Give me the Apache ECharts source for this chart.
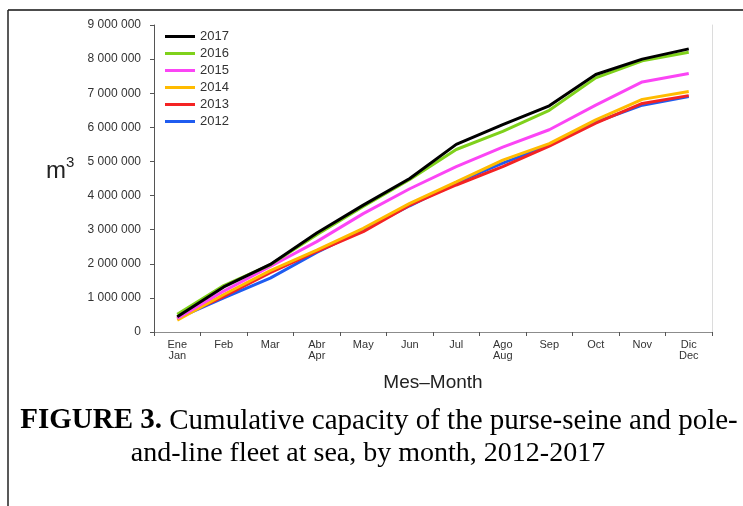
<!DOCTYPE html>
<html>
<head>
<meta charset="utf-8">
<script src="https://cdn.jsdelivr.net/npm/echarts@6/dist/echarts.min.js"></script>
<style>
  html, body { margin: 0; padding: 0; background: #fff; }
  #chart { width: 743px; height: 506px; }
</style>
</head>
<body>
<div id="chart"></div>
<script>
// months (Spanish / English)
const months = ["Ene\nJan", "Feb", "Mar", "Abr\nApr", "May", "Jun", "Jul", "Ago\nAug", "Sep", "Oct", "Nov", "Dic\nDec"];
const years = ["2012", "2013", "2014", "2015", "2016", "2017"];

// cumulative capacity, m3
const cap2012 = [400000, 1000000, 1580000, 2330000, 3000000, 3700000, 4380000, 4950000, 5470000, 6150000, 6650000, 6900000];
const cap2013 = [420000, 1040000, 1740000, 2360000, 2940000, 3720000, 4310000, 4850000, 5450000, 6120000, 6700000, 6930000];
const cap2014 = [350000, 1100000, 1800000, 2400000, 3040000, 3770000, 4400000, 5040000, 5520000, 6220000, 6820000, 7050000];
const cap2015 = [400000, 1200000, 1920000, 2650000, 3470000, 4200000, 4850000, 5420000, 5930000, 6650000, 7330000, 7580000];
const cap2016 = [520000, 1360000, 1970000, 2850000, 3680000, 4470000, 5350000, 5880000, 6500000, 7450000, 7950000, 8200000];
const cap2017 = [450000, 1320000, 1980000, 2900000, 3720000, 4500000, 5500000, 6080000, 6630000, 7550000, 8000000, 8300000];

const yMax = 9000000;
const yStep = 1000000;

const allData = [cap2012, cap2013, cap2014, cap2015, cap2016, cap2017];
const colors = ["#1f5cf0", "#f42323", "#ffbb00", "#fb45f5", "#7fd11b", "#000000"];

const chart = echarts.init(document.getElementById("chart"));

const fmt = (v) => String(v).replace(/\B(?=(\d{3})+(?!\d))/g, " ");

const option = {
  animation: false,
  textStyle: { fontFamily: "Liberation Sans" },
  grid: { left: 154, right: 31, top: 25, bottom: 174 },
  legend: {
    data: ["2017", "2016", "2015", "2014", "2013", "2012"],
    orient: "vertical",
    left: 165,
    top: 30,
    padding: 0,
    icon: "rect",
    itemWidth: 30,
    itemHeight: 3,
    itemGap: 4,
    textStyle: { fontSize: 13, color: "#333", fontFamily: "Liberation Sans" },
  },
  xAxis: [
    {
      type: "category",
      data: months,
      boundaryGap: true,
      axisLine: { lineStyle: { color: "#555", width: 1 } },
      axisTick: { show: true, length: 4, lineStyle: { color: "#555" } },
      axisLabel: {
        interval: 0,
        fontSize: 11,
        lineHeight: 11,
        margin: 7,
        color: "#333",
      },
      name: "Mes\u2013Month",
      nameLocation: "middle",
      nameGap: 41,
      nameTextStyle: { fontSize: 19, color: "#222" },
    },
    {
      // top frame line of the plot
      type: "category",
      data: months,
      position: "top",
      axisLine: { lineStyle: { color: "#8c8c8c", width: 1 } },
      axisTick: { show: false },
      axisLabel: { show: false },
    },
  ],
  yAxis: [
    {
      type: "value",
      min: 0,
      max: yMax,
      interval: yStep,
      axisLine: { show: true, lineStyle: { color: "#555", width: 1 } },
      axisTick: { show: true, length: 4, lineStyle: { color: "#555" } },
      splitLine: { show: false },
      axisLabel: { fontSize: 12, color: "#333", margin: 13, formatter: fmt },
    },
    {
      // right frame line
      type: "value",
      min: 0,
      max: yMax,
      interval: yStep,
      position: "right",
      axisLine: { show: true, lineStyle: { color: "#dcdcdc", width: 1 } },
      axisTick: { show: false },
      axisLabel: { show: false },
      splitLine: { show: false },
    },
  ],
  series: years.map((y, i) => ({
    name: y,
    type: "line",
    data: allData[i],
    symbol: "none",
    color: colors[i],
    lineStyle: { width: 3, color: colors[i] },
  })),
  graphic: [
    // page frame
    { type: "line", shape: { x1: 8, y1: 10, x2: 743, y2: 10 }, style: { stroke: "#111", lineWidth: 1.5 } },
    { type: "line", shape: { x1: 8, y1: 10, x2: 8, y2: 506 }, style: { stroke: "#222", lineWidth: 1.5 } },
    {
      type: "text",
      left: 46,
      top: 155,
      style: {
        text: "{m|m}{s|3}",
        rich: {
          m: { fontSize: 24, lineHeight: 28, verticalAlign: "bottom", fill: "#222", fontFamily: "Liberation Sans" },
          s: { fontSize: 15, lineHeight: 16, verticalAlign: "top", fill: "#222", fontFamily: "Liberation Sans" },
        },
      },
    },
    {
      type: "text",
      x: 379,
      y: 421,
      style: {
        text: "{b|FIGURE 3.} Cumulative capacity of the purse-seine and pole-",
        align: "center",
        verticalAlign: "middle",
        fontSize: 29,
        fontFamily: "Liberation Serif",
        fill: "#000",
        rich: {
          b: { fontSize: 29, fontWeight: "bold", fontFamily: "Liberation Serif", fill: "#000" },
        },
      },
    },
    {
      type: "text",
      x: 368,
      y: 454,
      style: {
        text: "and-line fleet at sea, by month, 2012-2017",
        align: "center",
        verticalAlign: "middle",
        fontSize: 28,
        fontFamily: "Liberation Serif",
        fill: "#000",
      },
    },
  ],
};

chart.setOption(option);
</script>
</body>
</html>
